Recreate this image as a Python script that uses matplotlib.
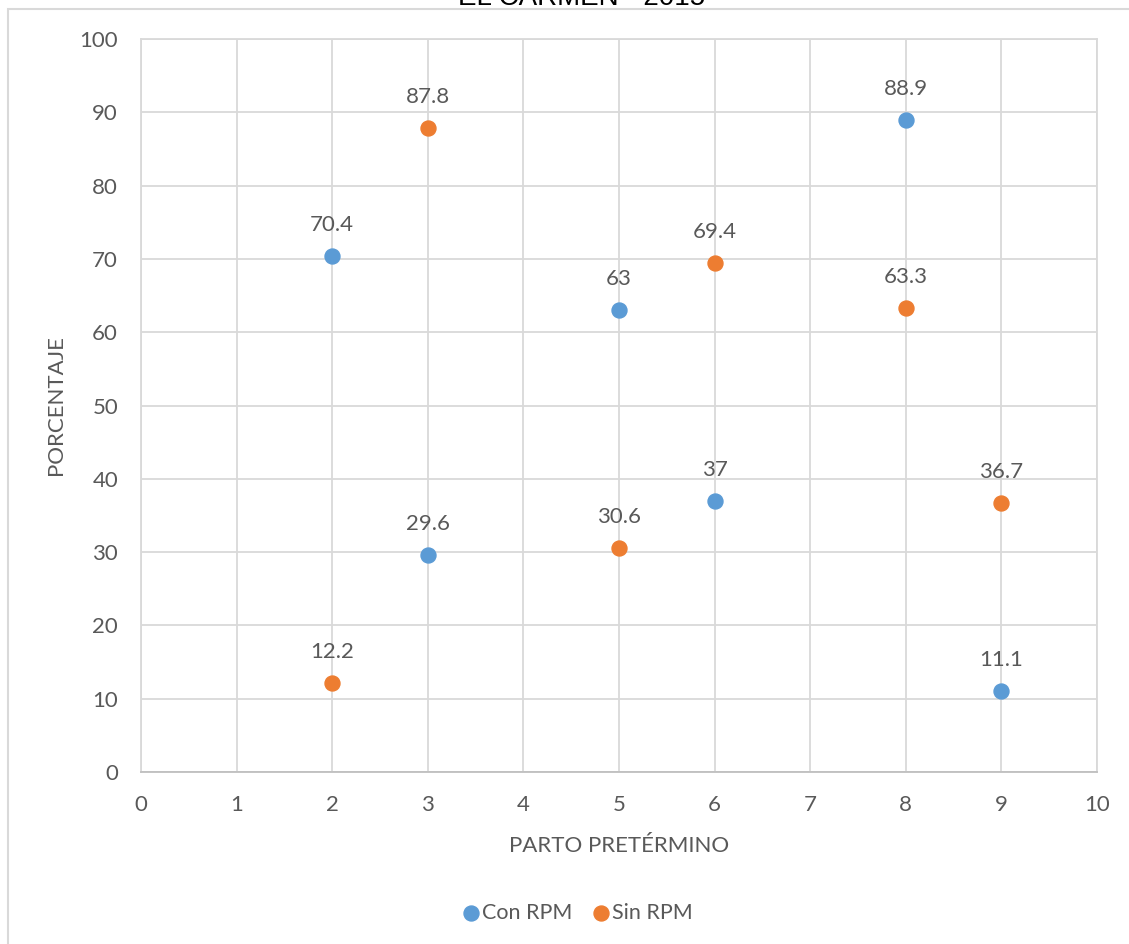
import matplotlib.pyplot as plt
from matplotlib.patches import Rectangle

# Datos por semana de parto pretérmino
semanas = [2, 3, 5, 6, 8, 9]
con_rpm = [70.4, 29.6, 63, 37, 88.9, 11.1]
sin_rpm = [12.2, 87.8, 30.6, 69.4, 63.3, 36.7]
etiquetas_con = ["70.4", "29.6", "63", "37", "88.9", "11.1"]
etiquetas_sin = ["12.2", "87.8", "30.6", "69.4", "63.3", "36.7"]

AZUL = "#5B9BD5"
NARANJA = "#ED7D31"
GRIS_TEXTO = "#595959"
GRIS_REJILLA = "#D9D9D9"
TAM = 16

plt.rcParams["font.family"] = ["Lato", "DejaVu Sans"]

fig = plt.figure(figsize=(11.29, 9.44), dpi=100)
ax = fig.add_axes([141 / 1129, 172 / 944, 956 / 1129, 733 / 944])

# borde del área del gráfico
fig.patches.append(Rectangle((8 / 1129, -0.05), 1.2, 1 - 9 / 944 + 0.05,
                             transform=fig.transFigure, fill=False,
                             edgecolor=GRIS_REJILLA, linewidth=1.5))

ax.scatter(semanas, con_rpm, s=116, color=AZUL, zorder=3, label="Con RPM")
ax.scatter(semanas, sin_rpm, s=116, color=NARANJA, zorder=3, label="Sin RPM")

for x, y, t in zip(semanas, con_rpm, etiquetas_con):
    ax.annotate(t, (x, y), xytext=(0, 21), textcoords="offset pixels",
                ha="center", va="bottom", fontsize=TAM, color=GRIS_TEXTO)
for x, y, t in zip(semanas, sin_rpm, etiquetas_sin):
    ax.annotate(t, (x, y), xytext=(0, 21), textcoords="offset pixels",
                ha="center", va="bottom", fontsize=TAM, color=GRIS_TEXTO)

ax.set_xlim(0, 10)
ax.set_ylim(0, 100)
ax.set_xticks(range(0, 11))
ax.set_yticks(range(0, 101, 10))
ax.grid(True, color=GRIS_REJILLA, linewidth=1.3)
ax.set_axisbelow(True)
for lado in ("top", "right", "left"):
    ax.spines[lado].set_color(GRIS_REJILLA)
    ax.spines[lado].set_linewidth(1.3)
ax.spines["bottom"].set_color("#BFBFBF")
ax.spines["bottom"].set_linewidth(1.3)
ax.tick_params(length=0, labelsize=TAM, labelcolor=GRIS_TEXTO, pad=16.5)

ax.set_xlabel("PARTO PRETÉRMINO", fontsize=TAM, color=GRIS_TEXTO, labelpad=15)
ax.set_ylabel("PORCENTAJE", fontsize=TAM, color=GRIS_TEXTO, labelpad=10)

fig.text(0.515, 1 - 5 / 944, "EL CARMEN - 2015", ha="center", va="baseline",
         fontsize=20, family="Liberation Sans", color="black")

ax.legend(loc="center", bbox_to_anchor=(0.512, 1 - 913 / 944),
          bbox_transform=fig.transFigure, ncol=2, frameon=False,
          fontsize=15.5, labelcolor=GRIS_TEXTO, handlelength=0.7,
          handletextpad=0.16, columnspacing=0.95, scatterpoints=1)

fig.savefig("out.png", dpi=100)
